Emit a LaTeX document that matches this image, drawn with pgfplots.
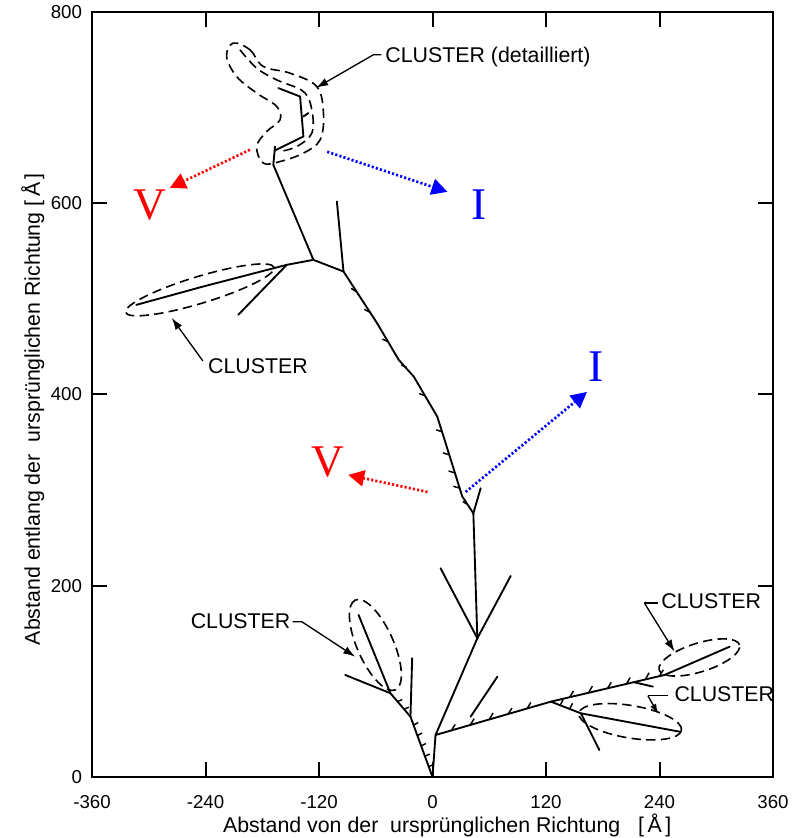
\documentclass[border=0pt]{standalone}
\usepackage{pgfplots}
\pgfplotsset{compat=1.18}
\usetikzlibrary{arrows.meta}
\usepackage{fontspec}
\setmainfont{Liberation Sans}
\newfontfamily\timesf{Liberation Serif}
\tikzset{clu/.style={black, line width=1.2pt, dash pattern=on 7pt off 4pt}}

\begin{document}
\begin{tikzpicture}
\begin{axis}[
  scale only axis, width=510.75pt, height=573.75pt,
  xmin=-360, xmax=360, ymin=0, ymax=800,
  xtick={-360,-240,-120,0,120,240,360},
  xticklabels={-360,-240,-120,0,120,240,360},
  ytick={0,200,400,600,800},
  yticklabels={0,200,400,600,800},
  tick align=inside, major tick length=11pt,
  axis line style={line width=1.8pt},
  tick style={line width=1.5pt, black},
  ticklabel style={font=\fontsize{14}{16}\selectfont},
  xticklabel style={yshift=-10pt},
  yticklabel style={xshift=-4pt},
  xlabel={Abstand von der\ \ ursprünglichen Richtung\ \ \ [\,Å\,]},
  ylabel={Abstand entlang der\ \ ursprünglichen Richtung [\,Å\,]},
  label style={font=\fontsize{16}{19}\selectfont},
  xlabel style={xshift=11pt, yshift=3pt},
  ylabel style={xshift=-11pt, yshift=-2pt},
  clip=false,
  tree/.style={black, line width=1.4pt, line join=round, line cap=round, mark=none},
  barb/.style={black, line width=1.1pt, mark=none, unbounded coords=jump},
]
% --- tree branches ---
\addplot[tree] coordinates {(0,0) (-23.3,63.1) (-44.5,87.6) (-92.3,106.7)};
\addplot[tree] coordinates {(-44.5,87.6) (-78.2,169.5)};
\addplot[tree] coordinates {(-23.3,63.1) (-21.5,124.2)};
\addplot[tree] coordinates {(0,0) (3.2,43.9) (47.4,145.1) (82.7,210.3)};
\addplot[tree] coordinates {(8.5,218.3) (47.4,145.1)};
\addplot[tree] coordinates {(47.4,145.1) (43.2,275.8) (31.5,293.2) (12,355) (5.0,376.9) (-19.8,418.7) (-35.7,436.2) (-58.6,474.6) (-94.1,528.6) (-125.9,540.8) (-168.3,640.2) (-166.5,659.3)};
\addplot[tree] coordinates {(-167,655) (-136.5,669.8) (-140,711.6) (-163,720.4)};
\addplot[tree] coordinates {(-136.5,690.7) (-131.2,694.3)};
\addplot[tree] coordinates {(43.2,275.8) (50.9,302)};
\addplot[tree] coordinates {(-94.1,528.6) (-101.1,601.8)};
\addplot[tree] coordinates {(-125.9,540.8) (-154.1,535.6) (-242.5,512.9) (-313.2,493.7)};
\addplot[tree] coordinates {(-154.1,535.6) (-205.4,483.3)};
\addplot[tree] coordinates {(3.2,43.9) (125.1,78.8) (245.3,106.7) (314.2,136.3)};
\addplot[tree] coordinates {(40.3,63.1) (68.6,104.9)};
\addplot[tree] coordinates {(125.1,78.8) (156.9,66.6) (261.2,47.4)};
\addplot[tree] coordinates {(156.9,66.6) (176.4,28.2)};
\addplot[tree] coordinates {(213.5,99) (233,94.5)};
% --- small barbs ---
\addplot[barb] coordinates {
 (-80,507.2) (-86,511) (nan,nan)
 (-66,485.9) (-72,489) (nan,nan)
 (-47,455.1) (-53,458) (nan,nan)
 (-27.5,428.2) (-33,431) (nan,nan)
 (-8,398.6) (-14,401) (nan,nan)
 (10,361.1) (4,363) (nan,nan)
 (17,337.1) (11,339) (nan,nan)
 (23,318.2) (17,320) (nan,nan)
 (28,302.3) (22,304) (nan,nan)
 (37,285) (32,288)};
\addplot[barb] coordinates {
 (20,48.7) (24,55) (nan,nan)
 (40,54.4) (44,61) (nan,nan)
 (60,60.1) (64,67) (nan,nan)
 (80,65.9) (84,72) (nan,nan)
 (100,71.6) (104,78) (nan,nan)
 (145,83.4) (149,90) (nan,nan)
 (165,88.1) (169,95) (nan,nan)
 (185,92.7) (189,99) (nan,nan)
 (205,97.3) (209,104) (nan,nan)
 (225,102) (229,109) (nan,nan)
 (240,105.5) (244,112) (nan,nan)
 (135,75) (138,81) (nan,nan)
 (145,71.2) (148,77)};
\addplot[barb] coordinates {
 (-4,10.8) (1,13) (nan,nan)
 (-8,21.7) (-3,24) (nan,nan)
 (-12,32.5) (-7,35) (nan,nan)
 (-16,43.3) (-11,46) (nan,nan)
 (-20,54.2) (-15,57) (nan,nan)
 (-30,70.9) (-25,73) (nan,nan)
 (-37,79) (-32,81)};
% --- cluster outlines ---
\draw[clu, rotate around={16.9:(axis cs:-246,509.4)}] (axis cs:-246,509.4) ellipse [x radius=82, y radius=14];
\draw[clu, rotate around={17.4:(axis cs:282.1,125)}] (axis cs:282.1,125) ellipse [x radius=44.5, y radius=15];
\draw[clu, rotate around={-9.5:(axis cs:209,57.8)}] (axis cs:209,57.8) ellipse [x radius=55, y radius=17];
\draw[clu, rotate around={114:(axis cs:-60.4,138.1)}] (axis cs:-60.4,138.1) ellipse [x radius=52, y radius=19];
\draw[clu] plot[smooth cycle, tension=0.6] coordinates {
 (-210.7,767.5) (-193,760.5) (-178.9,743) (-150.6,736) (-122.3,722) (-115.3,694.2)
 (-118.8,666.3) (-136.5,652.4) (-161.2,643.6) (-178.9,641.9) (-185.9,659.3)
 (-175.3,675) (-161.2,687.2) (-164.7,701.2) (-185.9,715.2) (-207.1,732.5) (-217.7,753.5)};
\draw[clu] plot[smooth, tension=0.6] coordinates {
 (-203.6,760.5) (-185.9,741.3) (-164.7,729) (-136.5,716.8) (-127.6,697.7)
 (-127.6,673.3) (-143.5,659.3) (-161.2,654.1)};
% --- annotations ---
\node[anchor=west, font=\fontsize{16}{19}\selectfont, inner sep=0pt] at (axis cs:-50,753.1) {CLUSTER (detailliert)};
\draw[line width=1pt, -{Latex[length=9pt,width=6pt]}] (axis cs:-54,755.2) -- (axis cs:-62.6,755.2) -- (axis cs:-123,720.7);
\node[anchor=west, font=\fontsize{16}{19}\selectfont, inner sep=0pt] at (axis cs:-237.5,429.9) {CLUSTER};
\draw[line width=1pt, -{Latex[length=9pt,width=6pt]}] (axis cs:-242.8,435.1) -- (axis cs:-275.7,480.1);
\node[anchor=east, font=\fontsize{16}{19}\selectfont, inner sep=0pt] at (axis cs:-150,163) {CLUSTER};
\draw[line width=1pt, -{Latex[length=9pt,width=6pt]}] (axis cs:-148,162.4) -- (axis cs:-138.2,162.4) -- (axis cs:-81.7,125.8);
\node[anchor=west, font=\fontsize{16}{19}\selectfont, inner sep=0pt] at (axis cs:241.8,184.1) {CLUSTER};
\draw[line width=1pt] (axis cs:238.6,182) -- (axis cs:224,182);
\draw[line width=1pt, -{Latex[length=9pt,width=6pt]}] (axis cs:224,182) -- (axis cs:255.9,131.1);
\node[anchor=west, font=\fontsize{16}{19}\selectfont, inner sep=0pt] at (axis cs:255.6,86.8) {CLUSTER};
\draw[line width=1pt] (axis cs:248.9,85) -- (axis cs:227.7,85);
\draw[line width=1pt, -{Latex[length=7pt,width=5pt]}] (axis cs:227.7,85) -- (axis cs:238.3,66.6);
% --- V / I arrows ---
\draw[red, line width=2pt, dash pattern=on 1.6pt off 1.6pt, -{Triangle[length=12pt,width=12pt]}] (axis cs:-193,655.9) -- (axis cs:-277.8,616.1);
\draw[blue, line width=2pt, dash pattern=on 1.6pt off 1.6pt, -{Triangle[length=12pt,width=12pt]}] (axis cs:-111.3,653.8) -- (axis cs:15.9,611.9);
\draw[red, line width=2pt, dash pattern=on 1.6pt off 1.6pt, -{Triangle[length=12pt,width=12pt]}] (axis cs:-5.3,298.1) -- (axis cs:-89.1,315.9);
\draw[blue, line width=2pt, dash pattern=on 1.6pt off 1.6pt, -{Triangle[length=12pt,width=12pt]}] (axis cs:35,298.1) -- (axis cs:163.3,402.7);
\node[red, font=\timesf\fontsize{34}{34}\selectfont] at (axis cs:-299,598.3) {V};
\node[blue, font=\timesf\fontsize{34}{34}\selectfont] at (axis cs:48.8,598.3) {I};
\node[blue, font=\timesf\fontsize{34}{34}\selectfont] at (axis cs:172.9,428.9) {I};
\node[red, font=\timesf\fontsize{34}{34}\selectfont] at (axis cs:-110.3,329.5) {V};
\end{axis}
\pgfresetboundingbox
\path ([shift={(-69pt,-45.75pt)}]current axis.south west) rectangle ([shift={(15.75pt,9pt)}]current axis.north east);
\end{tikzpicture}
\end{document}
